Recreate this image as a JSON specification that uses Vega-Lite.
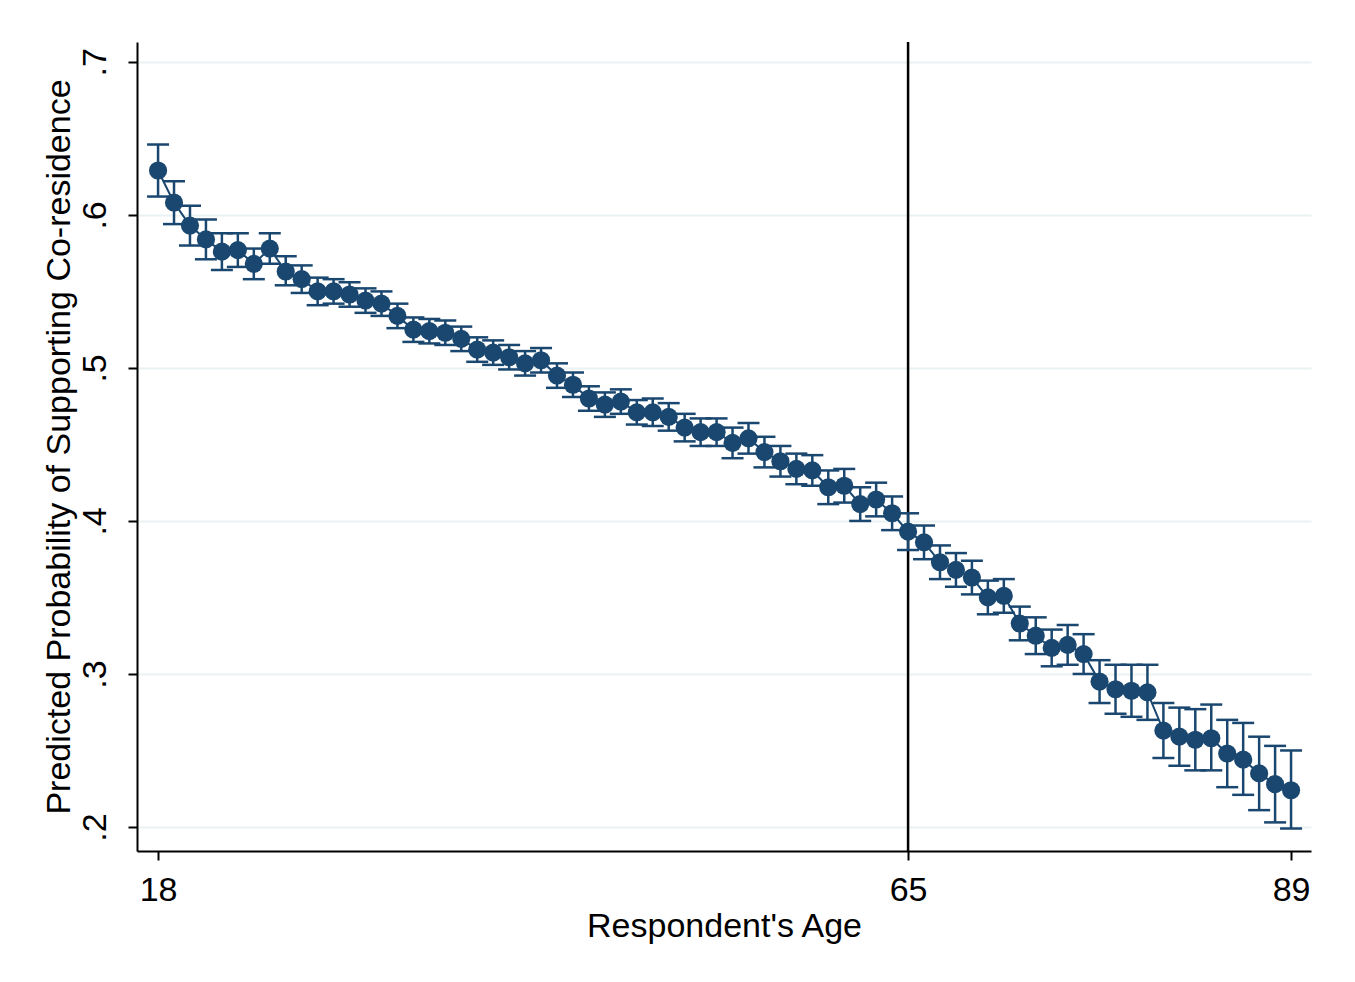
{
  "$schema": "https://vega.github.io/schema/vega-lite/v6.json",
  "autosize": "none",
  "width": 1174,
  "height": 809,
  "padding": {"left": 137, "top": 42, "right": 44, "bottom": 131},
  "background": "white",
  "config": {
    "view": {"stroke": null},
    "font": "Liberation Sans"
  },
  "datasets": {
    "pts": [
      {"age": 18, "p": 0.629, "lo": 0.612, "hi": 0.646},
      {"age": 19, "p": 0.608, "lo": 0.594, "hi": 0.622},
      {"age": 20, "p": 0.593, "lo": 0.580, "hi": 0.606},
      {"age": 21, "p": 0.584, "lo": 0.571, "hi": 0.597},
      {"age": 22, "p": 0.576, "lo": 0.564, "hi": 0.588},
      {"age": 23, "p": 0.577, "lo": 0.566, "hi": 0.588},
      {"age": 24, "p": 0.568, "lo": 0.558, "hi": 0.578},
      {"age": 25, "p": 0.578, "lo": 0.568, "hi": 0.588},
      {"age": 26, "p": 0.563, "lo": 0.554, "hi": 0.573},
      {"age": 27, "p": 0.558, "lo": 0.549, "hi": 0.567},
      {"age": 28, "p": 0.550, "lo": 0.541, "hi": 0.559},
      {"age": 29, "p": 0.550, "lo": 0.542, "hi": 0.558},
      {"age": 30, "p": 0.548, "lo": 0.540, "hi": 0.556},
      {"age": 31, "p": 0.544, "lo": 0.536, "hi": 0.552},
      {"age": 32, "p": 0.542, "lo": 0.534, "hi": 0.550},
      {"age": 33, "p": 0.534, "lo": 0.526, "hi": 0.542},
      {"age": 34, "p": 0.525, "lo": 0.517, "hi": 0.533},
      {"age": 35, "p": 0.524, "lo": 0.516, "hi": 0.532},
      {"age": 36, "p": 0.523, "lo": 0.515, "hi": 0.531},
      {"age": 37, "p": 0.519, "lo": 0.511, "hi": 0.527},
      {"age": 38, "p": 0.512, "lo": 0.504, "hi": 0.520},
      {"age": 39, "p": 0.510, "lo": 0.502, "hi": 0.518},
      {"age": 40, "p": 0.507, "lo": 0.499, "hi": 0.515},
      {"age": 41, "p": 0.503, "lo": 0.495, "hi": 0.511},
      {"age": 42, "p": 0.505, "lo": 0.497, "hi": 0.513},
      {"age": 43, "p": 0.495, "lo": 0.487, "hi": 0.503},
      {"age": 44, "p": 0.489, "lo": 0.481, "hi": 0.497},
      {"age": 45, "p": 0.480, "lo": 0.472, "hi": 0.488},
      {"age": 46, "p": 0.476, "lo": 0.468, "hi": 0.484},
      {"age": 47, "p": 0.478, "lo": 0.470, "hi": 0.486},
      {"age": 48, "p": 0.471, "lo": 0.463, "hi": 0.479},
      {"age": 49, "p": 0.471, "lo": 0.462, "hi": 0.480},
      {"age": 50, "p": 0.468, "lo": 0.459, "hi": 0.477},
      {"age": 51, "p": 0.461, "lo": 0.452, "hi": 0.470},
      {"age": 52, "p": 0.458, "lo": 0.449, "hi": 0.467},
      {"age": 53, "p": 0.458, "lo": 0.449, "hi": 0.467},
      {"age": 54, "p": 0.451, "lo": 0.441, "hi": 0.461},
      {"age": 55, "p": 0.454, "lo": 0.444, "hi": 0.464},
      {"age": 56, "p": 0.445, "lo": 0.435, "hi": 0.455},
      {"age": 57, "p": 0.439, "lo": 0.429, "hi": 0.449},
      {"age": 58, "p": 0.434, "lo": 0.424, "hi": 0.444},
      {"age": 59, "p": 0.433, "lo": 0.423, "hi": 0.443},
      {"age": 60, "p": 0.422, "lo": 0.411, "hi": 0.433},
      {"age": 61, "p": 0.423, "lo": 0.412, "hi": 0.434},
      {"age": 62, "p": 0.411, "lo": 0.400, "hi": 0.422},
      {"age": 63, "p": 0.414, "lo": 0.403, "hi": 0.425},
      {"age": 64, "p": 0.405, "lo": 0.394, "hi": 0.416},
      {"age": 65, "p": 0.393, "lo": 0.381, "hi": 0.405},
      {"age": 66, "p": 0.386, "lo": 0.375, "hi": 0.397},
      {"age": 67, "p": 0.373, "lo": 0.362, "hi": 0.384},
      {"age": 68, "p": 0.368, "lo": 0.357, "hi": 0.379},
      {"age": 69, "p": 0.363, "lo": 0.352, "hi": 0.374},
      {"age": 70, "p": 0.350, "lo": 0.339, "hi": 0.361},
      {"age": 71, "p": 0.351, "lo": 0.340, "hi": 0.362},
      {"age": 72, "p": 0.333, "lo": 0.322, "hi": 0.344},
      {"age": 73, "p": 0.325, "lo": 0.313, "hi": 0.337},
      {"age": 74, "p": 0.317, "lo": 0.305, "hi": 0.329},
      {"age": 75, "p": 0.319, "lo": 0.306, "hi": 0.332},
      {"age": 76, "p": 0.313, "lo": 0.300, "hi": 0.326},
      {"age": 77, "p": 0.295, "lo": 0.281, "hi": 0.309},
      {"age": 78, "p": 0.290, "lo": 0.274, "hi": 0.306},
      {"age": 79, "p": 0.289, "lo": 0.272, "hi": 0.306},
      {"age": 80, "p": 0.288, "lo": 0.270, "hi": 0.306},
      {"age": 81, "p": 0.263, "lo": 0.245, "hi": 0.281},
      {"age": 82, "p": 0.259, "lo": 0.240, "hi": 0.278},
      {"age": 83, "p": 0.257, "lo": 0.237, "hi": 0.277},
      {"age": 84, "p": 0.258, "lo": 0.237, "hi": 0.280},
      {"age": 85, "p": 0.248, "lo": 0.226, "hi": 0.270},
      {"age": 86, "p": 0.244, "lo": 0.221, "hi": 0.268},
      {"age": 87, "p": 0.235, "lo": 0.211, "hi": 0.259},
      {"age": 88, "p": 0.228, "lo": 0.203, "hi": 0.253},
      {"age": 89, "p": 0.224, "lo": 0.199, "hi": 0.250}
    ],
    "ref": [{"age": 65}]
  },
  "layer": [
    {
      "data": {"name": "pts"},
      "mark": {"type": "rule", "opacity": 0},
      "encoding": {
        "x": {
          "field": "age", "type": "quantitative",
          "scale": {"domain": [16.68, 90.25], "nice": false, "zero": false},
          "axis": {
            "values": [18, 65, 89], "title": "Respondent's Age", "grid": false,
            "domain": true, "domainColor": "#000000", "domainWidth": 2,
            "tickColor": "#000000", "tickWidth": 2, "tickSize": 9,
            "labelFontSize": 34, "labelColor": "#000000", "labelPadding": 13,
            "labelFont": "Liberation Sans", "labelFlush": false,
            "titleFontSize": 34, "titleColor": "#000000", "titleFontWeight": "normal",
            "titleFont": "Liberation Sans", "titlePadding": 2
          }
        },
        "y": {
          "field": "p", "type": "quantitative",
          "scale": {"domain": [0.1843, 0.713], "nice": false, "zero": false},
          "axis": {
            "values": [0.2, 0.3, 0.4, 0.5, 0.6, 0.7],
            "labelExpr": "substring(format(datum.value, '.1f'), 1)",
            "title": "Predicted Probability of Supporting Co-residence",
            "grid": true, "gridColor": "#eaf2f3", "gridWidth": 2,
            "domain": true, "domainColor": "#000000", "domainWidth": 2,
            "tickColor": "#000000", "tickWidth": 2, "tickSize": 9,
            "labelAngle": -90, "labelAlign": "center", "labelBaseline": "bottom",
            "labelFontSize": 34, "labelColor": "#000000", "labelPadding": 16,
            "labelFont": "Liberation Sans", "labelFlush": false,
            "titleFontSize": 34, "titleColor": "#000000", "titleFontWeight": "normal",
            "titleFont": "Liberation Sans", "titlePadding": 2
          }
        }
      }
    },
    {
      "data": {"name": "ref"},
      "mark": {"type": "rule", "color": "#000000", "strokeWidth": 2.5},
      "encoding": {
        "x": {"field": "age", "type": "quantitative"}
      }
    },
    {
      "data": {"name": "pts"},
      "mark": {"type": "rule", "color": "#1a476f", "strokeWidth": 2.5},
      "encoding": {
        "x": {"field": "age", "type": "quantitative"},
        "y": {"field": "lo", "type": "quantitative"},
        "y2": {"field": "hi"}
      }
    },
    {
      "data": {"name": "pts"},
      "mark": {"type": "tick", "orient": "horizontal", "color": "#1a476f", "size": 22, "thickness": 2.5, "opacity": 1},
      "encoding": {
        "x": {"field": "age", "type": "quantitative"},
        "y": {"field": "lo", "type": "quantitative"}
      }
    },
    {
      "data": {"name": "pts"},
      "mark": {"type": "tick", "orient": "horizontal", "color": "#1a476f", "size": 22, "thickness": 2.5, "opacity": 1},
      "encoding": {
        "x": {"field": "age", "type": "quantitative"},
        "y": {"field": "hi", "type": "quantitative"}
      }
    },
    {
      "data": {"name": "pts"},
      "mark": {"type": "line", "color": "#1a476f", "strokeWidth": 2},
      "encoding": {
        "x": {"field": "age", "type": "quantitative"},
        "y": {"field": "p", "type": "quantitative"}
      }
    },
    {
      "data": {"name": "pts"},
      "mark": {"type": "point", "filled": true, "shape": "circle", "color": "#1a476f", "size": 330, "opacity": 1},
      "encoding": {
        "x": {"field": "age", "type": "quantitative"},
        "y": {"field": "p", "type": "quantitative"}
      }
    }
  ]
}
